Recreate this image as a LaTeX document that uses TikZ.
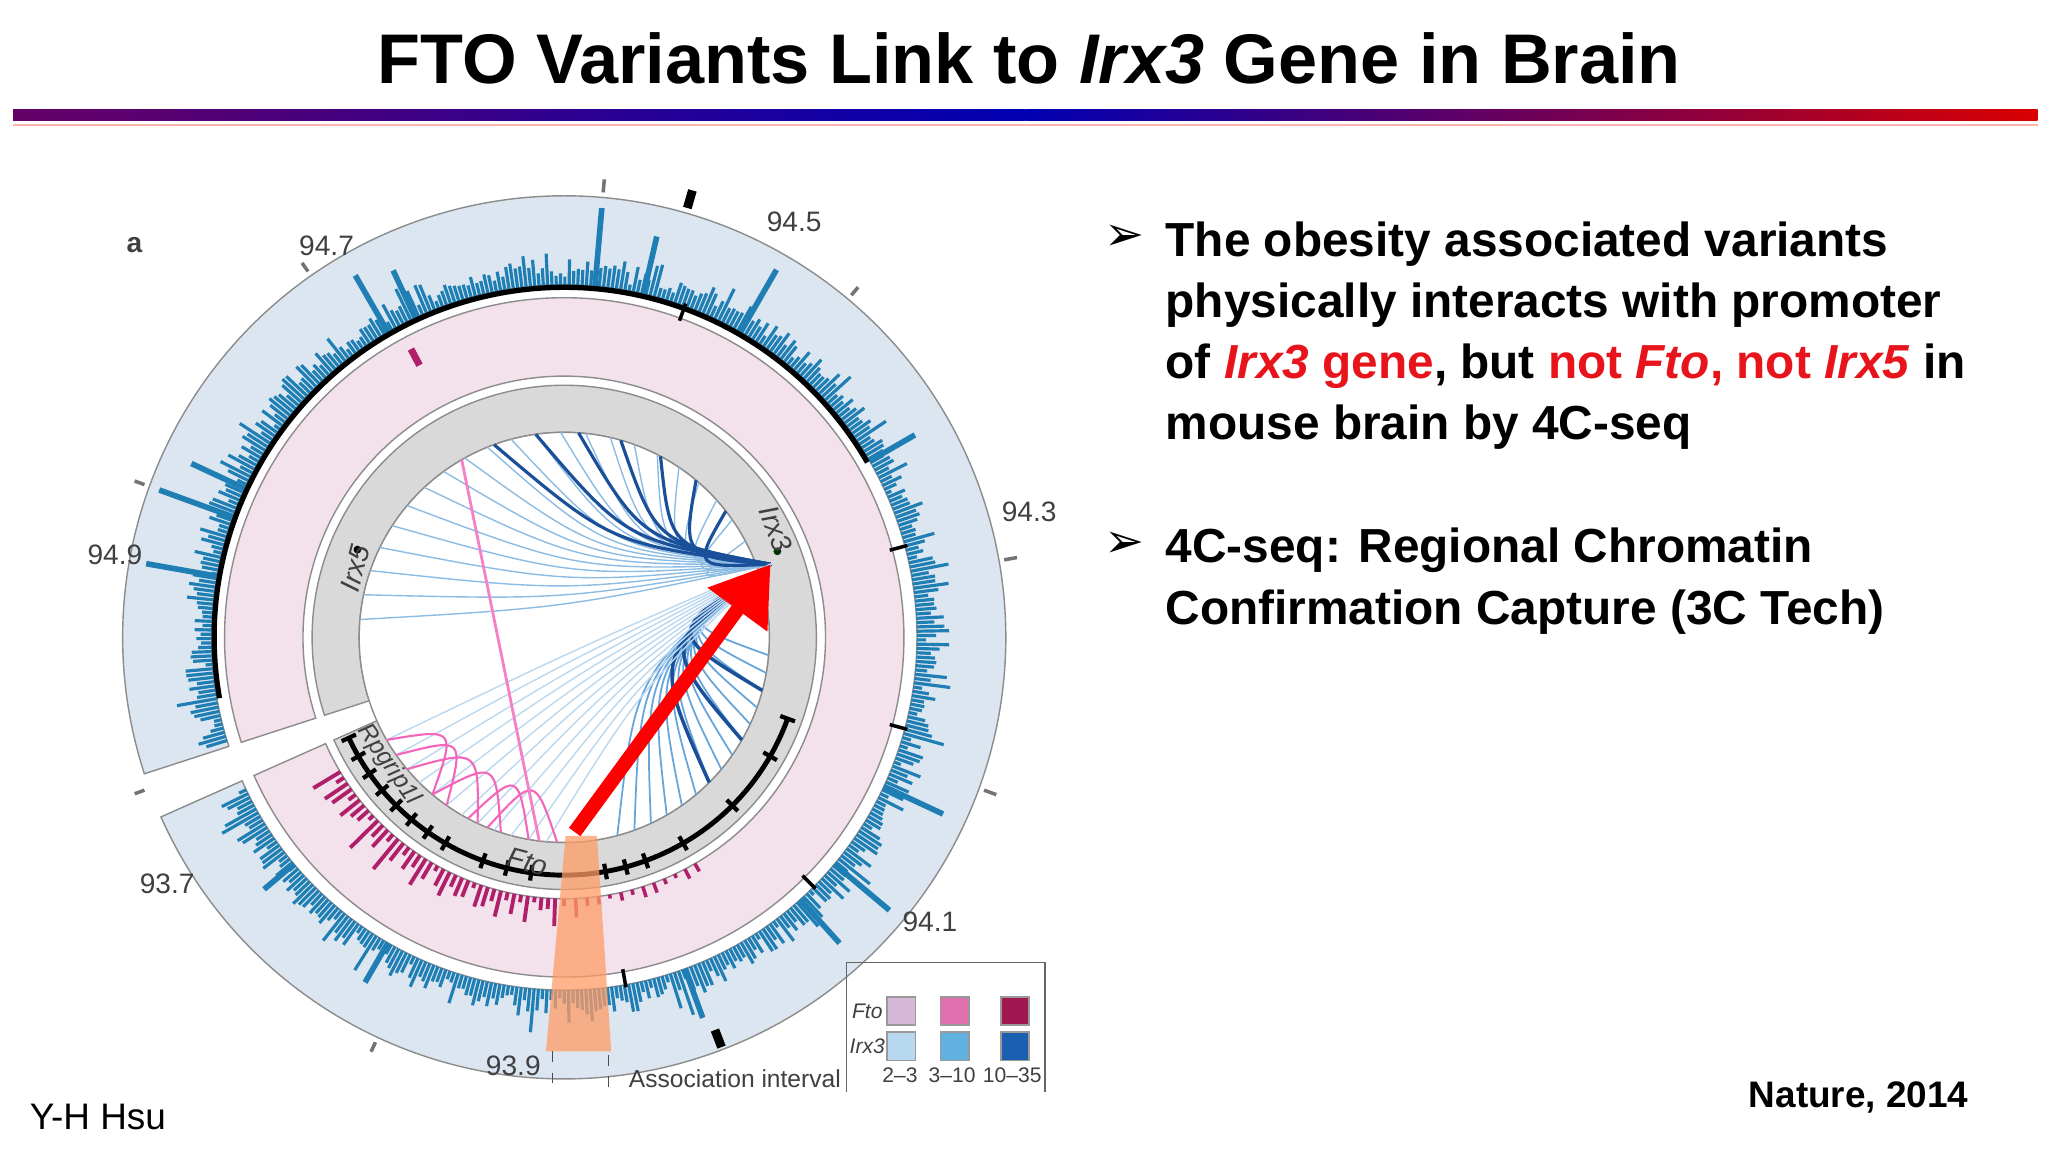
\documentclass[tikz,border=0pt]{standalone}
\usepackage{fontspec}
\setmainfont{Liberation Sans}
\newfontfamily\symfont{DejaVu Sans}
\usetikzlibrary{calc,arrows.meta}
\definecolor{ringblue}{HTML}{DCE6F0}
\definecolor{ringpink}{HTML}{F3E1EC}
\definecolor{ringgrey}{HTML}{D9D9D9}
\definecolor{barblue}{HTML}{1F7FB5}
\definecolor{barpink}{HTML}{B0206A}
\definecolor{arcblue}{HTML}{3F8FD0}
\definecolor{darkarc}{HTML}{1A4F9A}
\definecolor{lgA}{HTML}{D8B8D8}\definecolor{lgB}{HTML}{E070B0}\definecolor{lgC}{HTML}{A01850}
\definecolor{lgD}{HTML}{B8D8F0}\definecolor{lgE}{HTML}{60B0E0}\definecolor{lgF}{HTML}{1A5FB0}
\definecolor{redtxt}{HTML}{E8141B}
\tikzset{
 lab/.style={font=\fontsize{8}{9}\selectfont, text=black!75},
 bul/.style={anchor=west, font=\fontsize{13.6}{17.4}\selectfont\bfseries, align=left},
 leg/.style={minimum size=8pt, inner sep=0pt, draw=black!40}
}
\begin{document}
\begin{tikzpicture}[x=0.01306cm,y=-0.01306cm]
\useasboundingbox[fill=white] (0,0) rectangle (1568,882);
\node[font=\fontsize{20}{24}\selectfont\bfseries] (title) at (788,45) {FTO Variants Link to \textit{Irx3} Gene in Brain};
\shade[left color=violet!80!black, right color=blue!70!black] (10,84) rectangle (785,92);
\shade[left color=blue!70!black, right color=red!85!black] (785,84) rectangle (1560,92);
\draw[red!30,line width=0.6pt] (10,96) -- (1560,96);
\coordinate (C) at (432,488);
% rings
\fill[ringblue,draw=black!45] ($(C)+(162:338)$) arc[start angle=162,end angle=516,radius=338] -- ($(C)+(516:270)$) arc[start angle=516,end angle=162,radius=270] -- cycle;
\fill[ringpink,draw=black!45] ($(C)+(162:260)$) arc[start angle=162,end angle=516,radius=260] -- ($(C)+(516:200)$) arc[start angle=516,end angle=162,radius=200] -- cycle;
\fill[ringgrey,draw=black!45] ($(C)+(162:193)$) arc[start angle=162,end angle=516,radius=193] -- ($(C)+(516:157)$) arc[start angle=516,end angle=162,radius=157] -- cycle;
\fill[white,draw=black!45] (C) circle (157);
% outer bars
\pgfmathsetseed{7}
\foreach \a in {163,163.7,...,515}{
  \pgfmathsetmacro\l{4+14*rnd+30*rnd*rnd*rnd}
  \draw[barblue,line width=0.9pt] ($(C)+(\a:270)$) -- ($(C)+(\a:270+\l)$);
}
\foreach \a/\l in {240/50,245/40,275/60,283/45,300/55,330/40,25/50,40/55,48/45,70/40,120/35,140/30,190/55,200/60,205/45}{
  \draw[barblue,line width=1.6pt] ($(C)+(\a:270)$) -- ($(C)+(\a:270+\l)$);}
\draw[black,line width=1.5pt] ($(C)+(170:268)$) arc[start angle=170,end angle=330,radius=268];
% pink bars
\foreach \a in {92,93.5,...,150}{
  \pgfmathsetmacro\l{4+30*rnd*rnd}
  \draw[barpink,line width=1.1pt] ($(C)+(\a:200)$) -- ($(C)+(\a:200+\l)$);}
\foreach \a in {60,62.5,...,90}{
  \pgfmathsetmacro\l{3+18*rnd*rnd}
  \draw[barpink,line width=1pt] ($(C)+(\a:200)$) -- ($(C)+(\a:200+\l)$);}
\draw[barpink,line width=2pt] ($(C)+(242:236)$) -- ($(C)+(242:250)$);
% grey-ring gene track
\draw[black,line width=1.4pt] ($(C)+(20:182)$) arc[start angle=20,end angle=155,radius=182];
\foreach \a in {20,30,45,60,70,75,80,98,104,110,120,125,130,135,140,145,150,155}{
  \draw[black,line width=1.2pt] ($(C)+(\a:176)$) -- ($(C)+(\a:188)$);}
\fill[black] ($(C)+(203:172)$) circle (3);
\fill[black!80!green] ($(C)+(338:176)$) circle (3);
% outer ticks
\foreach \a/\r in {350/10,275/10,235/8,200/8,20/10,115/8,310/8,160/8}{
  \draw[black!55,line width=1pt] ($(C)+(\a:338+4)$) -- ($(C)+(\a:338+4+\r)$);}
\draw[black,line width=2.5pt] ($(C)+(286:342)$) -- ($(C)+(286:356)$);
\draw[black,line width=2.5pt] ($(C)+(69:322)$) -- ($(C)+(69:336)$);
% ticks on pink ring
\foreach \a in {290,345,15,45,80}{\draw[black,line width=1pt] ($(C)+(\a:258)$) -- ($(C)+(\a:272)$);}
% interaction arcs
\coordinate (I3) at (590,432);
\foreach \a in {185,192,...,335}{
  \draw[arcblue!60,line width=0.4pt] (I3) .. controls ($(I3)!0.5!($(C)+(\a:157)$)!0.35!(C)$) .. ($(C)+(\a:157)$);}
\foreach \a in {250,262,...,330}{
  \draw[darkarc,line width=0.9pt] (I3) .. controls ($(I3)!0.5!($(C)+(\a:157)$)!0.3!(C)$) .. ($(C)+(\a:157)$);}
\foreach \a in {5,10,...,75}{
  \draw[arcblue!80,line width=0.5pt] (I3) .. controls ($(I3)!0.5!($(C)+(\a:157)$)!0.45!(C)$) .. ($(C)+(\a:157)$);}
\foreach \a in {15,30,45}{
  \draw[darkarc,line width=1pt] (I3) .. controls ($(I3)!0.5!($(C)+(\a:157)$)!0.5!(C)$) .. ($(C)+(\a:157)$);}
\foreach \a in {95,100,...,150}{
  \draw[arcblue!35,line width=0.4pt] (I3) .. controls ($(I3)!0.5!($(C)+(\a:157)$)!0.2!(C)$) .. ($(C)+(\a:157)$);}
\foreach \a/\b in {100/118,108/130,115/140,125/145,92/112,130/150}{
  \draw[magenta!60,line width=0.6pt] ($(C)+(\a:157)$) .. controls ($($(C)+(\a:157)$)!0.5!($(C)+(\b:157)$)!0.3!(C)$) .. ($(C)+(\b:157)$);}
\draw[magenta!50,line width=0.8pt] ($(C)+(240:157)$) -- ($(C)+(97:157)$);
% association interval
\fill[orange!70!red!60,opacity=0.75] (433,640) -- (457,640) -- (468,805) -- (418,805) -- cycle;
\draw[dashed,black!70] (423,805) -- (423,836);
\draw[dashed,black!70] (466,808) -- (466,836);
% arrow
\draw[red,line width=4pt,-{Triangle[length=16pt,width=20pt]}] (440,637) -- (I3);
% labels
\node[lab] (a) at (103,188) {\bfseries a};
\node[lab] (l947) at (250,188) {94.7};
\node[lab] (l945) at (608,170) {94.5};
\node[lab] (l943) at (788,392) {94.3};
\node[lab] (l949) at (88,425) {94.9};
\node[lab] (l937) at (128,677) {93.7};
\node[lab] (l941) at (712,706) {94.1};
\node[lab] (l939) at (393,816) {93.9};
\node[lab,font=\fontsize{7}{8}\selectfont,anchor=west] (assoc) at (472,826) {Association interval};
\node[lab,font=\fontsize{8}{9}\selectfont\itshape,rotate=-68,inner sep=0pt] (irx3) at (594,405) {Irx3};
\node[lab,font=\fontsize{8}{9}\selectfont\itshape,rotate=75] (irx5) at (272,435) {Irx5};
\node[lab,font=\fontsize{7}{8}\selectfont\itshape,rotate=-55,inner sep=0pt] (rpg) at ($(C)+(144:166)$) {Rpgrip1l};
\node[lab,font=\fontsize{8}{9}\selectfont\itshape,rotate=-15,inner sep=0pt] (fto) at (404,660) {Fto};
% legend
\draw[black!60] (648,836) -- (648,737) -- (800,737) -- (800,836);
\node[lab,font=\fontsize{6}{7}\selectfont\itshape] (lfto) at (664,774) {Fto};
\node[lab,font=\fontsize{6}{7}\selectfont\itshape] (lirx) at (664,801) {Irx3};
\node[leg,fill=lgA] (s1) at (690,774) {};\node[leg,fill=lgB] (s2) at (731,774) {};\node[leg,fill=lgC] (s3) at (777,774) {};
\node[leg,fill=lgD] (s4) at (690,801) {};\node[leg,fill=lgE] (s5) at (731,801) {};\node[leg,fill=lgF] (s6) at (777,801) {};
\node[lab,font=\fontsize{6}{7}\selectfont] (t1) at (689,823) {2--3};
\node[lab,font=\fontsize{6}{7}\selectfont] (t2) at (729,823) {3--10};
\node[lab,font=\fontsize{6}{7}\selectfont] (t3) at (775,823) {10--35};
% right text
\node[bul] (b1) at (836,182) {\symfont ➢};
\node[bul,anchor=north west] (txt1) at (883,160) {The obesity associated variants\\physically interacts with promoter\\of \textcolor{redtxt}{\textit{Irx3} gene}, but \textcolor{redtxt}{not \textit{Fto}, not \textit{Irx5}} in\\mouse brain by 4C-seq};
\node[bul] (b2) at (836,417) {\symfont ➢};
\node[bul,anchor=north west] (txt2) at (883,395) {4C-seq: Regional Chromatin\\Confirmation Capture (3C Tech)};
\node[font=\fontsize{10.5}{12}\selectfont\bfseries] (nat) at (1423,840) {Nature, 2014};
\node[font=\fontsize{10.5}{12}\selectfont] (yh) at (75,855) {Y-H Hsu};
\end{tikzpicture}
\end{document}
